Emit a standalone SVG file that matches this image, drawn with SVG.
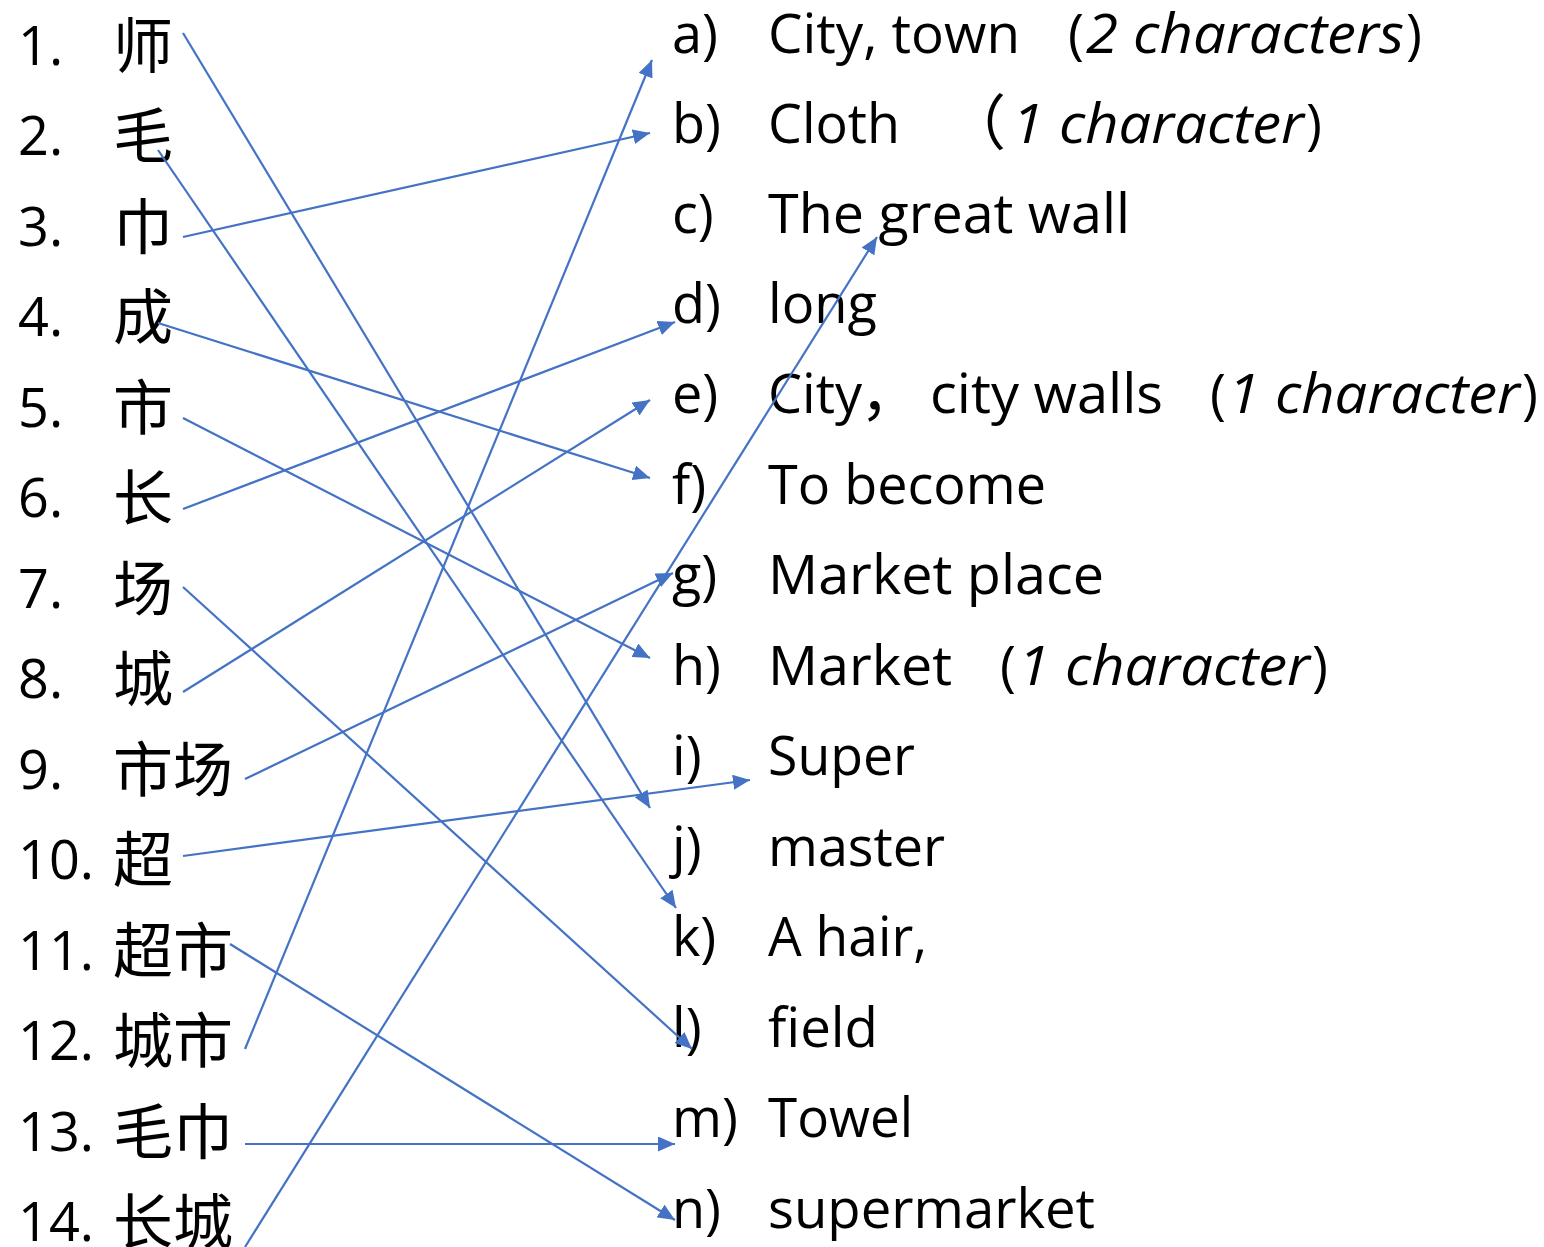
<svg xmlns="http://www.w3.org/2000/svg" width="1544" height="1247" viewBox="0 0 1544 1247">
<defs>
<style>
.t{font-family:"Open Sans","Noto Sans",sans-serif;font-size:54px;fill:#000}
.i{font-family:"Open Sans","Noto Sans",sans-serif;font-size:54px;font-style:italic;fill:#000}
.c{font-family:"Noto Sans CJK SC","Noto Sans",sans-serif;font-size:60px;fill:#000}
.ln{stroke:#4472C4;stroke-width:2.2;fill:none;marker-end:url(#ah)}
</style>
<marker id="ah" markerUnits="userSpaceOnUse" markerWidth="18" markerHeight="15" refX="17" refY="7.5" orient="auto">
<path d="M0,0 L17,7.5 L0,15 z" fill="#4472C4"/>
</marker>
</defs>
<rect width="1544" height="1247" fill="#fff"/>
<g id="left">
<g id="n1"><text class="t" x="18" y="65">1.</text><text class="c" x="113" y="68">师</text></g>
<g id="n2"><text class="t" x="18" y="155">2.</text><text class="c" x="113" y="158">毛</text></g>
<g id="n3"><text class="t" x="18" y="246">3.</text><text class="c" x="113" y="249">巾</text></g>
<g id="n4"><text class="t" x="18" y="336">4.</text><text class="c" x="113" y="339">成</text></g>
<g id="n5"><text class="t" x="18" y="427">5.</text><text class="c" x="113" y="430">市</text></g>
<g id="n6"><text class="t" x="18" y="517">6.</text><text class="c" x="113" y="520">长</text></g>
<g id="n7"><text class="t" x="18" y="608">7.</text><text class="c" x="113" y="611">场</text></g>
<g id="n8"><text class="t" x="18" y="698">8.</text><text class="c" x="113" y="701">城</text></g>
<g id="n9"><text class="t" x="18" y="789">9.</text><text class="c" x="113" y="792">市场</text></g>
<g id="n10"><text class="t" x="18" y="879">10.</text><text class="c" x="113" y="882">超</text></g>
<g id="n11"><text class="t" x="18" y="970">11.</text><text class="c" x="113" y="973">超市</text></g>
<g id="n12"><text class="t" x="18" y="1060">12.</text><text class="c" x="113" y="1063">城市</text></g>
<g id="n13"><text class="t" x="18" y="1151">13.</text><text class="c" x="113" y="1154">毛巾</text></g>
<g id="n14"><text class="t" x="18" y="1241">14.</text><text class="c" x="113" y="1244">长城</text></g>
</g>
<g id="right">
<g id="ra"><text class="t" x="672" y="53">a)</text><text class="t" x="768" y="53" textLength="252" lengthAdjust="spacingAndGlyphs">City, town</text><text class="t" x="1068" y="53">(</text><text class="i" x="1086" y="53" textLength="318" lengthAdjust="spacingAndGlyphs">2 characters</text><text class="t" x="1406" y="53">)</text></g>
<g id="rb"><text class="t" x="672" y="143">b)</text><text class="t" x="768" y="143" textLength="132" lengthAdjust="spacingAndGlyphs">Cloth</text><text class="c" x="946" y="145">（</text><text class="i" x="1012" y="143" textLength="292" lengthAdjust="spacingAndGlyphs">1 character</text><text class="t" x="1306" y="143">)</text></g>
<g id="rc"><text class="t" x="672" y="233">c)</text><text class="t" x="768" y="233" textLength="362" lengthAdjust="spacingAndGlyphs">The great wall</text></g>
<g id="rd"><text class="t" x="672" y="323">d)</text><text class="t" x="768" y="323" textLength="109" lengthAdjust="spacingAndGlyphs">long</text></g>
<g id="re"><text class="t" x="672" y="413">e)</text><text class="t" x="768" y="413" textLength="94" lengthAdjust="spacingAndGlyphs">City</text><text class="c" x="860" y="415">，</text><text class="t" x="930" y="413" textLength="233" lengthAdjust="spacingAndGlyphs">city walls</text><text class="t" x="1210" y="413">(</text><text class="i" x="1228" y="413" textLength="292" lengthAdjust="spacingAndGlyphs">1 character</text><text class="t" x="1522" y="413">)</text></g>
<g id="rf"><text class="t" x="672" y="504">f)</text><text class="t" x="768" y="504" textLength="278" lengthAdjust="spacingAndGlyphs">To become</text></g>
<g id="rg"><text class="t" x="672" y="594">g)</text><text class="t" x="768" y="594" textLength="336" lengthAdjust="spacingAndGlyphs">Market place</text></g>
<g id="rh"><text class="t" x="672" y="685">h)</text><text class="t" x="768" y="685" textLength="184" lengthAdjust="spacingAndGlyphs">Market</text><text class="t" x="1000" y="685">(</text><text class="i" x="1018" y="685" textLength="292" lengthAdjust="spacingAndGlyphs">1 character</text><text class="t" x="1312" y="685">)</text></g>
<g id="ri"><text class="t" x="672" y="775">i)</text><text class="t" x="768" y="775" textLength="147" lengthAdjust="spacingAndGlyphs">Super</text></g>
<g id="rj"><text class="t" x="672" y="866">j)</text><text class="t" x="768" y="866" textLength="177" lengthAdjust="spacingAndGlyphs">master</text></g>
<g id="rk"><text class="t" x="672" y="956">k)</text><text class="t" x="768" y="956" textLength="159" lengthAdjust="spacingAndGlyphs">A hair,</text></g>
<g id="rl"><text class="t" x="672" y="1047">l)</text><text class="t" x="768" y="1047" textLength="110" lengthAdjust="spacingAndGlyphs">field</text></g>
<g id="rm"><text class="t" x="672" y="1137">m)</text><text class="t" x="768" y="1137" textLength="145" lengthAdjust="spacingAndGlyphs">Towel</text></g>
<g id="rn"><text class="t" x="672" y="1228">n)</text><text class="t" x="768" y="1228" textLength="327" lengthAdjust="spacingAndGlyphs">supermarket</text></g>
</g>
<g id="connectors">
<line class="ln" x1="183" y1="33" x2="650" y2="808"/>
<line class="ln" x1="158" y1="150" x2="676" y2="908"/>
<line class="ln" x1="183" y1="237" x2="650" y2="133"/>
<line class="ln" x1="158" y1="323" x2="650" y2="478"/>
<line class="ln" x1="183" y1="418" x2="650" y2="658"/>
<line class="ln" x1="183" y1="509" x2="675" y2="322"/>
<line class="ln" x1="183" y1="587" x2="692" y2="1049"/>
<line class="ln" x1="183" y1="692" x2="650" y2="400"/>
<line class="ln" x1="245" y1="779" x2="673" y2="573"/>
<line class="ln" x1="183" y1="856" x2="750" y2="780"/>
<line class="ln" x1="230" y1="944" x2="675" y2="1220"/>
<line class="ln" x1="245" y1="1049" x2="652" y2="60"/>
<line class="ln" x1="245" y1="1144" x2="675" y2="1144"/>
<line class="ln" x1="245" y1="1247" x2="877" y2="237"/>
</g>
</svg>
